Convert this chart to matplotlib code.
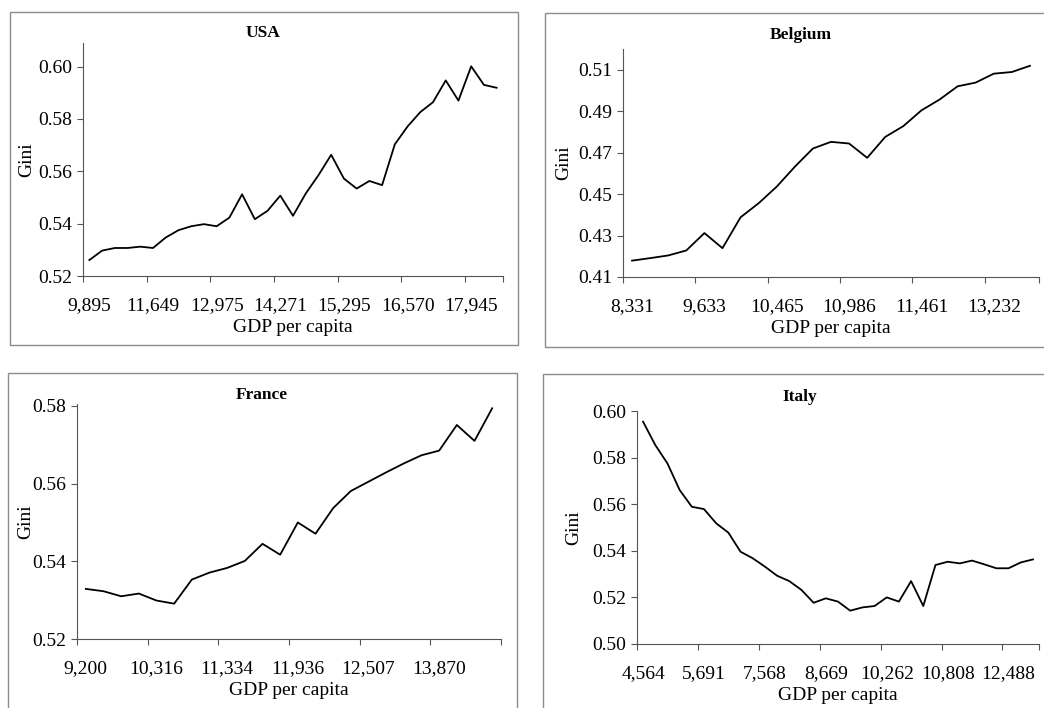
import matplotlib.pyplot as plt
from matplotlib.patches import Rectangle

plt.rcParams['font.family'] = ['Liberation Serif', 'DejaVu Serif']

# --- data ---
usa_gini = [0.5261, 0.5297, 0.5307, 0.5307, 0.5312, 0.5307, 0.5347, 0.5375, 0.5390,
            0.5398, 0.5390, 0.5423, 0.5512, 0.5417, 0.5449, 0.5507, 0.5430, 0.5515,
            0.5585, 0.5663, 0.5572, 0.5534, 0.5563, 0.5547, 0.5703, 0.5771, 0.5826,
            0.5864, 0.5947, 0.5870, 0.6001, 0.5930, 0.5919]
usa_labels = ['9,895', '11,649', '12,975', '14,271', '15,295', '16,570', '17,945']

bel_gini = [0.4179, 0.4191, 0.4204, 0.4228, 0.4312, 0.4239, 0.4388, 0.4456, 0.4536,
            0.4632, 0.4720, 0.4752, 0.4744, 0.4675, 0.4776, 0.4828, 0.4904, 0.4956,
            0.5020, 0.5038, 0.5081, 0.5089, 0.5119]
bel_labels = ['8,331', '9,633', '10,465', '10,986', '11,461', '13,232']

fra_gini = [0.5329, 0.5323, 0.5310, 0.5317, 0.5299, 0.5291, 0.5353, 0.5371, 0.5383,
            0.5401, 0.5445, 0.5417, 0.5500, 0.5471, 0.5537, 0.5581, 0.5605, 0.5629,
            0.5652, 0.5673, 0.5685, 0.5751, 0.5710, 0.5794]
fra_labels = ['9,200', '10,316', '11,334', '11,936', '12,507', '13,870']

ita_gini = [0.5954, 0.5854, 0.5775, 0.5661, 0.5589, 0.5579, 0.5518, 0.5478, 0.5396,
            0.5368, 0.5332, 0.5293, 0.5270, 0.5232, 0.5177, 0.5196, 0.5182, 0.5143,
            0.5157, 0.5163, 0.5200, 0.5182, 0.5270, 0.5163, 0.5339, 0.5353, 0.5346,
            0.5358, 0.5342, 0.5325, 0.5325, 0.5350, 0.5363]
ita_labels = ['4,564', '5,691', '7,568', '8,669', '10,262', '10,808', '12,488']

W, H = 1044, 708
FS = 14


def px_rect(l, t, r, b):
    return [l / W, 1 - b / H, (r - l) / W, (b - t) / H]


def make_panel(fig, box, ax_box, title, title_xy, gini, labels, step, ylim, yticks, ylab_x):
    # outer frame around each panel
    fig.patches.append(Rectangle((box[0] / W, 1 - box[3] / H), (box[2] - box[0]) / W,
                                 (box[3] - box[1]) / H, transform=fig.transFigure,
                                 fill=False, edgecolor='#8c8c8c', linewidth=1.0))
    ax = fig.add_axes(px_rect(*ax_box))
    x = list(range(len(gini)))
    ax.plot(x, gini, color='black', linewidth=1.3)
    ax.set_xlim(-0.5, len(gini) - 0.5)
    ax.set_ylim(*ylim)

    ax.set_xticks(list(range(0, len(gini), step)))
    ax.set_xticklabels(labels)
    bounds = [b - 0.5 for b in range(0, len(gini), step)] + [len(gini) - 0.5]
    ax.set_xticks(bounds, minor=True)
    ax.tick_params(axis='x', which='major', length=0, pad=15, labelsize=FS)
    ax.tick_params(axis='x', which='minor', length=4, width=0.8, color='#555555', direction='out')

    ax.set_yticks(yticks)
    ax.set_yticklabels([f'{v:.2f}' for v in yticks])
    ax.tick_params(axis='y', length=4, width=0.8, color='#555555', pad=4, labelsize=FS)

    for s in ['top', 'right']:
        ax.spines[s].set_visible(False)
    for s in ['left', 'bottom']:
        ax.spines[s].set_color('#555555')
        ax.spines[s].set_linewidth(0.8)

    ax.set_xlabel('GDP per capita', fontsize=FS, labelpad=4)
    ax.set_ylabel('Gini', fontsize=FS)
    ax.yaxis.set_label_coords((ylab_x - ax_box[0]) / (ax_box[2] - ax_box[0]), 0.5)

    fig.text(title_xy[0] / W, 1 - title_xy[1] / H, title, ha='center', va='center',
             fontsize=12.5, fontweight='bold')
    return ax


fig = plt.figure(figsize=(W / 100, H / 100), dpi=100)

make_panel(fig, (10, 12, 518, 345), (83, 43, 503, 276), 'USA', (263, 33),
           usa_gini, usa_labels, 5, (0.52, 0.609), [0.52, 0.54, 0.56, 0.58, 0.60], 35)
make_panel(fig, (545, 13, 1050, 347), (623, 49, 1039, 277), 'Belgium', (801, 35),
           bel_gini, bel_labels, 4, (0.41, 0.52), [0.41, 0.43, 0.45, 0.47, 0.49, 0.51], 572)
make_panel(fig, (8, 373, 517, 720), (77, 404, 501, 639), 'France', (262, 395),
           fra_gini, fra_labels, 4, (0.52, 0.5805), [0.52, 0.54, 0.56, 0.58], 34)
make_panel(fig, (543, 374, 1050, 720), (637, 411, 1039, 644), 'Italy', (800, 397),
           ita_gini, ita_labels, 5, (0.50, 0.60), [0.50, 0.52, 0.54, 0.56, 0.58, 0.60], 582)

fig.savefig('out.png', dpi=100)
